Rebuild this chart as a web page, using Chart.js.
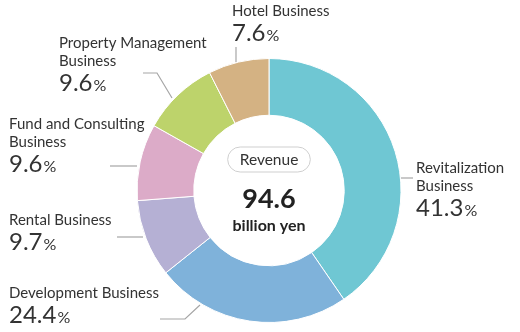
<!DOCTYPE html>
<html>
<head>
<meta charset="utf-8">
<script src="https://cdn.jsdelivr.net/npm/chart.js@4.4.0/dist/chart.umd.min.js"></script>
<style>
	html, body { margin: 0; padding: 0; background: #fff; }
	#wrap { width: 520px; height: 332px; }
</style>
</head>
<body>
<div id="wrap"><canvas id="grafik" width="520" height="332"></canvas></div>
<script>
// revenue share by segment, clockwise from 12 o'clock
var segmen = [
	['Revitalization', 'Business'],
	['Development Business'],
	['Rental Business'],
	['Fund and Consulting', 'Business'],
	['Property Management', 'Business'],
	['Hotel Business']
];
var persen = [41.3, 24.4, 9.7, 9.6, 9.6, 7.6];
var totalLabel = 'Revenue';
var totalNilai = '94.6';
var totalSatuan = 'billion yen';

var warna = ['#6fc7d3', '#7fb2da', '#b5b0d4', '#dcabc8', '#bdd36b', '#d4b283'];

// where each label block sits and how its leader line runs
var posisi = [
	{ x: 416, y: 173, garis: [[401, 178], [413, 178]] },
	{ x: 9, y: 298, garis: [[160, 319], [185, 319], [200, 305]] },
	{ x: 9, y: 225, garis: [[117, 237], [143, 237]] },
	{ x: 9, y: 129, garis: [[110, 166], [137, 166]] },
	{ x: 59, y: 48, garis: [[143, 73], [157, 73], [172, 98]] },
	{ x: 232, y: 16, garis: [[236, 47], [236, 62]] }
];

var teks = '#333333';
var huruf = 'Lato, "Open Sans", sans-serif';

var labelPlugin = {
	id: 'labelSegmen',
	afterDraw: function(chart) {
		var ctx = chart.ctx;
		ctx.save();

		// leader lines
		ctx.strokeStyle = '#a6a6a6';
		ctx.lineWidth = 1.2;
		posisi.forEach(function(p) {
			ctx.beginPath();
			p.garis.forEach(function(pt, k) {
				if (k == 0) ctx.moveTo(pt[0], pt[1]);
				else ctx.lineTo(pt[0], pt[1]);
			});
			ctx.stroke();
		});

		// segment names + percentages
		ctx.fillStyle = teks;
		ctx.textAlign = 'left';
		ctx.textBaseline = 'alphabetic';
		segmen.forEach(function(baris, i) {
			var p = posisi[i];
			var y = p.y;
			ctx.font = '15px ' + huruf;
			baris.forEach(function(b, k) {
				ctx.fillText(b, p.x, y + k * 18);
			});
			y = y + (baris.length - 1) * 18 + 25;
			var angka = persen[i].toFixed(1);
			ctx.font = '24px ' + huruf;
			ctx.fillText(angka, p.x, y);
			var w = ctx.measureText(angka).width;
			ctx.font = '16px ' + huruf;
			ctx.fillText('%', p.x + w + 1, y);
		});

		// center text
		var meta = chart.getDatasetMeta(0).data[0];
		var cx = meta.x, cy = meta.y;
		ctx.textAlign = 'center';

		ctx.font = '15.5px ' + huruf;
		var pw = ctx.measureText(totalLabel).width + 24;
		var ph = 25, py = cy - 43.5;
		ctx.beginPath();
		ctx.roundRect(cx - pw / 2, py, pw, ph, ph / 2);
		ctx.strokeStyle = '#cfcfcf';
		ctx.lineWidth = 1;
		ctx.stroke();
		ctx.fillStyle = teks;
		ctx.fillText(totalLabel, cx, py + 18);

		ctx.fillStyle = '#222';
		ctx.font = 'bold 27px ' + huruf;
		ctx.fillText(totalNilai, cx, cy + 17);
		ctx.font = 'bold 16px ' + huruf;
		ctx.fillText(totalSatuan, cx, cy + 40);

		ctx.restore();
	}
};

var grafik = new Chart(document.getElementById('grafik'), {
	type: 'doughnut',
	data: {
		labels: segmen.map(function(b) { return b.join(' '); }),
		datasets: [{
			data: persen,
			backgroundColor: warna,
			borderColor: '#ffffff',
			borderWidth: 1
		}]
	},
	options: {
		responsive: false,
		animation: false,
		devicePixelRatio: 1,
		cutout: '57%',
		layout: { padding: { top: 58, bottom: 9, left: 136, right: 118 } },
		plugins: {
			legend: { display: false },
			tooltip: { enabled: false }
		}
	},
	plugins: [labelPlugin]
});
</script>
</body>
</html>
